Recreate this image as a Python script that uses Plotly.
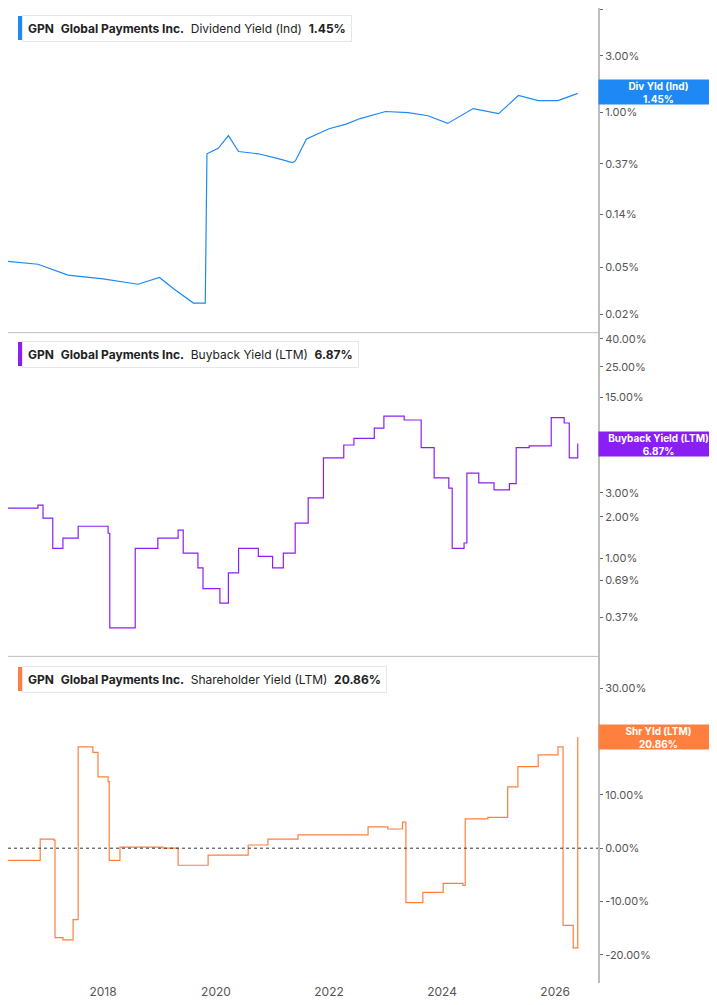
import numpy as np
import pandas as pd
import plotly.graph_objects as go
from plotly.subplots import make_subplots

# decimal years, values in %
div_t = [2016.32, 2016.85, 2017.38, 2018.0, 2018.62, 2019.0, 2019.25, 2019.6, 2019.81, 2019.84,
         2020.04, 2020.22, 2020.4, 2020.75, 2021.1, 2021.35, 2021.4, 2021.6, 2022.0, 2022.3,
         2022.55, 2023.0, 2023.4, 2023.75, 2024.1, 2024.55, 2025.0, 2025.35, 2025.7, 2026.05, 2026.4]
div_v = [0.056, 0.053, 0.043, 0.040, 0.036, 0.041, 0.033, 0.025, 0.025, 0.45,
         0.50, 0.64, 0.47, 0.45, 0.41, 0.38, 0.39, 0.60, 0.73, 0.80,
         0.89, 1.02, 1.00, 0.94, 0.81, 1.08, 0.98, 1.39, 1.26, 1.26, 1.45]

bb_t = [2016.32, 2016.85, 2016.94, 2017.11, 2017.29, 2017.56, 2018.09, 2018.12, 2018.53, 2018.57,
        2018.97, 2019.33, 2019.42, 2019.68, 2019.77, 2020.07, 2020.22, 2020.4, 2020.75, 2021.0,
        2021.19, 2021.4, 2021.63, 2021.9, 2022.26, 2022.44, 2022.8, 2022.97, 2023.33, 2023.63,
        2023.86, 2024.12, 2024.18, 2024.39, 2024.44, 2024.65, 2024.92, 2025.19, 2025.31, 2025.54,
        2025.81, 2025.93, 2026.16, 2026.25, 2026.4]
bb_v = [2.32, 2.44, 1.96, 1.18, 1.40, 1.71, 1.52, 0.31, 0.31, 1.18,
        1.40, 1.60, 1.09, 0.85, 0.60, 0.47, 0.78, 1.18, 1.03, 0.85,
        1.09, 1.80, 2.75, 5.4, 6.7, 7.5, 8.9, 10.9, 10.2, 6.4,
        3.85, 3.25, 1.18, 1.29, 4.18, 3.54, 3.15, 3.5, 6.4, 6.6,
        6.6, 10.6, 9.7, 5.4, 6.87]

sh_t = [2016.32, 2016.87, 2016.89, 2017.13, 2017.15, 2017.29, 2017.47, 2017.54, 2017.56, 2017.82,
        2017.91, 2018.09, 2018.11, 2018.3, 2019.06, 2019.33, 2019.86, 2020.57, 2020.92, 2021.45,
        2022.16, 2022.69, 2023.04, 2023.3, 2023.36, 2023.66, 2024.02, 2024.37, 2024.41, 2024.81,
        2025.16, 2025.34, 2025.7, 2026.05, 2026.14, 2026.32, 2026.4]
sh_v = [-2.3, -2.3, 1.7, 1.5, -16.8, -17.2, -13.4, -13.4, 19.0, 18.0,
        13.4, 12.5, -2.3, 0.2, 0.0, -3.2, -1.3, 0.6, 1.7, 2.5,
        2.5, 4.0, 3.6, 4.9, -10.2, -8.3, -6.6, -7.0, 5.5, 5.8,
        11.5, 15.3, 17.5, 19.0, -14.5, -18.7, 20.86]


def to_date(years):
    y = np.array(years)
    base = pd.to_datetime(np.floor(y).astype(int).astype(str))
    return base + pd.to_timedelta((y - np.floor(y)) * 365.25, unit="D")


blue, purple, orange = "#1e88f5", "#8b1ef5", "#ff7f3f"
grid = "#bdbdbd"

fig = make_subplots(rows=3, cols=1, shared_xaxes=True, vertical_spacing=0.0)
fig.add_trace(go.Scatter(x=to_date(div_t), y=div_v, mode="lines", line=dict(color=blue, width=1.2)), 1, 1)
fig.add_trace(go.Scatter(x=to_date(bb_t), y=bb_v, mode="lines", line=dict(color=purple, width=1.2, shape="hv")), 2, 1)
fig.add_trace(go.Scatter(x=to_date(sh_t), y=sh_v, mode="lines", line=dict(color=orange, width=1.2, shape="hv")), 3, 1)

d1 = [0.02, 0.05, 0.14, 0.37, 1.0, 3.0, 7.39]
d2 = [0.19, 0.37, 0.69, 1.0, 2.0, 3.0, 6.0, 15.0, 25.0, 40.0]
d3 = [-20, -10, 0, 10, 20, 30]

yax = dict(side="right", showgrid=False, zeroline=False, showline=True, linecolor=grid, linewidth=2,
           ticks="outside", ticklen=3, tickcolor="#666", tickfont=dict(family="Inter", size=11, color="#555"))
fig.update_layout(
    yaxis=dict(yax, type="log", range=[-1.851, 0.879], tickvals=d1, ticktext=[f"{v:.2f}%" for v in d1], domain=[0.667, 1]),
    yaxis2=dict(yax, type="log", range=[-0.717, 1.646], tickvals=d2, ticktext=[f"{v:.2f}%" for v in d2], domain=[0.335, 0.667]),
    yaxis3=dict(yax, range=[-25.3, 36.0], tickvals=d3, ticktext=[f"{v:.2f}%" for v in d3], domain=[0, 0.335]),
)
fig.update_xaxes(showgrid=False, zeroline=False, showline=False,
                 range=[pd.Timestamp("2016-04-27"), pd.Timestamp("2026-10-05")])
fig.update_xaxes(tickvals=pd.to_datetime(["2018-01-01", "2020-01-01", "2022-01-01", "2024-01-01", "2026-01-01"]),
                 ticktext=["2018", "2020", "2022", "2024", "2026"], ticks="",
                 tickfont=dict(family="Inter", size=12, color="#555"), row=3, col=1)

fig.add_hline(y=0, line=dict(color="#333", width=1, dash="dot"), row=3, col=1)
for yy in [0.667, 0.335]:
    fig.add_shape(type="line", xref="paper", yref="paper", x0=0, x1=1, y0=yy, y1=yy, line=dict(color=grid, width=1))

titles = [("Dividend Yield (Ind)", "1.45%", blue, 20),
          ("Buyback Yield (LTM)", "6.87%", purple, 346),
          ("Shareholder Yield (LTM)", "20.86%", orange, 671)]
for name, val, col, py in titles:
    yp = (975 - py) / 975
    fig.add_annotation(xref="paper", yref="paper", x=14 / 590, y=yp, xanchor="left", yanchor="middle",
                       text=f"<b>GPN</b>  <b>Global Payments Inc.</b>  {name}  <b>{val}</b>", showarrow=False,
                       font=dict(family="Inter", size=12, color="#222"), bgcolor="white",
                       bordercolor="#e6e6e6", borderwidth=1, borderpad=5)
    fig.add_shape(type="rect", xref="paper", yref="paper", x0=10 / 590, x1=14 / 590,
                  y0=yp - 12 / 975, y1=yp + 12 / 975, fillcolor=col, line_width=0)

tags = [("Div Yld (Ind)", "1.45%", blue, 84), ("Buyback Yield (LTM)", "6.87%", purple, 436),
        ("Shr Yld (LTM)", "20.86%", orange, 729)]
for name, val, col, py in tags:
    fig.add_annotation(xref="paper", yref="paper", x=1.0, y=(975 - py) / 975, xanchor="left", yanchor="middle",
                       text=f"<b>{name}<br>{val}</b>", showarrow=False, width=117, height=22, align="center",
                       font=dict(family="Inter", size=10, color="white"), bgcolor=col, borderpad=1)

fig.update_layout(width=717, height=1005, margin=dict(l=0, r=127, t=0, b=30, autoexpand=False), showlegend=False,
                  plot_bgcolor="white", paper_bgcolor="white")
fig.write_html("out.html")
